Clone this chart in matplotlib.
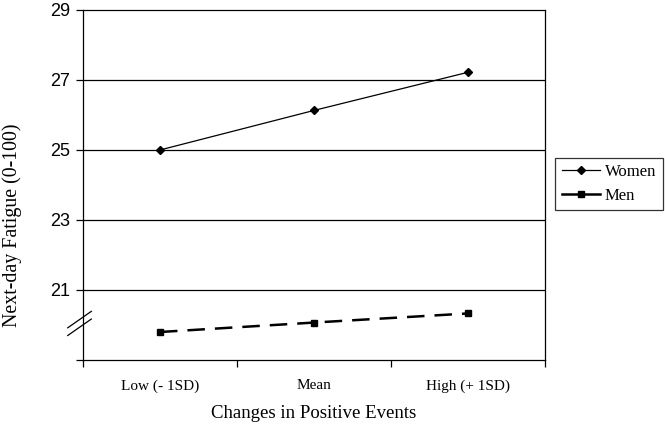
import numpy as np
import matplotlib.pyplot as plt
from matplotlib.lines import Line2D

# data
categories = ['Low (- 1SD)', 'Mean', 'High (+ 1SD)']
women = [25.0, 26.13, 27.22]
men = [19.8, 20.07, 20.33]
y_ticks = [19, 21, 23, 25, 27, 29]
y_tick_labels = ['', '21', '23', '25', '27', '29']

serif = 'Liberation Serif'
sans = 'Liberation Sans'

fig = plt.figure(figsize=(6.65, 4.34), dpi=100)
ax = fig.add_axes([0.1248, 0.1705, 0.6947, 0.8065])

x = np.arange(len(categories))

# horizontal grid lines
for yv in y_ticks[1:-1]:
    ax.axhline(yv, color='black', linewidth=0.9, zorder=1)

ax.plot(x, women, color='black', linewidth=0.9, marker='D', markersize=4,
        zorder=3)
ax.plot(x, men, color='black', linewidth=1.8, dashes=(7, 4), marker='s',
        markersize=5, zorder=3)

ax.set_xlim(-0.5, 2.5)
ax.set_ylim(19, 29)

# x ticks on category boundaries, labels at centres
ax.set_xticks([-0.5, 0.5, 1.5, 2.5])
ax.set_xticklabels([])
ax.set_xticks(x, minor=True)
ax.set_xticklabels(categories, minor=True, fontfamily=serif, fontsize=11)
ax.tick_params(axis='x', which='minor', length=0, pad=14)
ax.tick_params(axis='x', which='major', length=5, width=0.9, direction='out')

ax.set_yticks(y_ticks)
ax.set_yticklabels(y_tick_labels, fontfamily=sans, fontsize=13)
ax.tick_params(axis='y', length=5, width=0.9, direction='out', pad=4)

for s in ax.spines.values():
    s.set_linewidth(0.9)

ax.set_xlabel('Changes in Positive Events', fontfamily=serif, fontsize=13.5,
              labelpad=9)
ax.set_ylabel('Next-day Fatigue (0-100)', fontfamily=serif, fontsize=14.3)
ax.yaxis.set_label_coords(-0.131, 0.386)

# axis break marks
for dy in (0.0, 0.022):
    ax.add_line(Line2D([-0.033, 0.018], [0.07 + dy, 0.117 + dy],
                       transform=ax.transAxes, color='black', linewidth=0.9,
                       clip_on=False))

# legend handles (short solid segments as in the original)
handles = [
    Line2D([], [], color='black', linewidth=0.9, marker='D', markersize=4),
    Line2D([], [], color='black', linewidth=1.8, marker='s', markersize=5),
]
leg = ax.legend(handles, ['Women', 'Men'], loc='center left',
                bbox_to_anchor=(1.0216, 0.503), borderaxespad=0,
                prop={'family': serif, 'size': 12}, frameon=True,
                fancybox=False, edgecolor='black', handlelength=2.3,
                borderpad=0.4, labelspacing=0.45, handletextpad=0.3)
leg.get_frame().set_linewidth(0.9)

plt.savefig('out.png', dpi=100)
